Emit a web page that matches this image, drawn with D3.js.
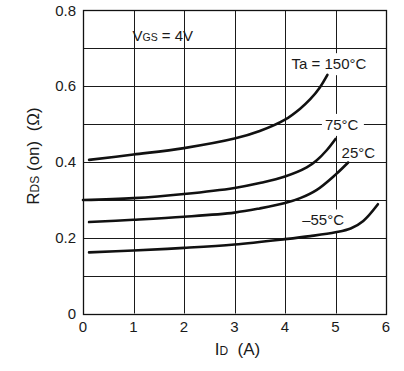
<!DOCTYPE html>
<html>
<head>
<meta charset="utf-8">
<script src="https://cdn.jsdelivr.net/npm/d3@7"></script>
<style>
  html, body { margin: 0; padding: 0; background: #fff; }
  svg { display: block; }
  text { font-family: "Liberation Sans", Arial, sans-serif; fill: #1a1a1a; }
</style>
</head>
<body>
<svg id="chart" width="404" height="371"></svg>
<script>
// ---- data ----
const xTicks = [0, 1, 2, 3, 4, 5, 6];
const yTicks = [0, 0.2, 0.4, 0.6, 0.8];
const yGrid = [0.1, 0.2, 0.3, 0.4, 0.5, 0.6, 0.7];
const xGrid = [1, 2, 3, 4, 5];

const id150 = [0.12, 1, 2, 3, 3.5, 4, 4.3, 4.5, 4.69, 4.84];
const r150  = [0.405, 0.419, 0.436, 0.461, 0.481, 0.511, 0.540, 0.565, 0.596, 0.629];

const id75 = [0, 1, 2, 3, 3.5, 4, 4.43, 4.63, 4.83, 5.0];
const r75  = [0.299, 0.304, 0.315, 0.331, 0.344, 0.361, 0.385, 0.404, 0.431, 0.46];

const id25 = [0.12, 1, 2, 3, 3.5, 4, 4.3, 4.63, 5, 5.25];
const r25  = [0.241, 0.247, 0.255, 0.266, 0.277, 0.291, 0.304, 0.326, 0.366, 0.398];

const idM55 = [0.12, 1, 2, 3, 4, 4.5, 5, 5.3, 5.55, 5.84];
const rM55  = [0.161, 0.166, 0.173, 0.182, 0.196, 0.204, 0.214, 0.224, 0.244, 0.288];

const curveLabels = [
  { text: "Ta = 150°C", id: 4.13, r: 0.644, w: 78 },
  { text: "75°C", id: 4.79, r: 0.484, w: 36 },
  { text: "25°C", id: 5.12, r: 0.411, w: 0 },
  { text: "–55°C", id: 4.34, r: 0.232, w: 44 }
];

// ---- scales ----
const svg = d3.select("#chart");
const x = d3.scaleLinear().domain([0, 6]).range([83, 386]);
const y = d3.scaleLinear().domain([0, 0.8]).range([313.5, 10]);

// grid
const g = svg.append("g");
g.selectAll("line.h").data(yGrid).enter().append("line")
  .attr("x1", x(0)).attr("x2", x(6))
  .attr("y1", d => Math.round(y(d)) + 0.5).attr("y2", d => Math.round(y(d)) + 0.5)
  .attr("stroke", "#1a1a1a").attr("stroke-width", 1);
g.selectAll("line.v").data(xGrid).enter().append("line")
  .attr("y1", y(0)).attr("y2", y(0.8))
  .attr("x1", d => Math.round(x(d)) + 0.5).attr("x2", d => Math.round(x(d)) + 0.5)
  .attr("stroke", "#1a1a1a").attr("stroke-width", 1);

// frame
svg.append("rect")
  .attr("x", Math.round(x(0)) + 0.5).attr("y", Math.round(y(0.8)) + 0.5)
  .attr("width", Math.round(x(6)) - Math.round(x(0)))
  .attr("height", Math.round(y(0)) - Math.round(y(0.8)))
  .attr("fill", "none").attr("stroke", "#111").attr("stroke-width", 1.3);

// label white backgrounds
svg.selectAll("rect.lbg").data(curveLabels.filter(d => d.w > 0)).enter().append("rect")
  .attr("x", d => x(d.id) - 3).attr("y", d => y(d.r) - 16)
  .attr("width", d => d.w + 6).attr("height", 22)
  .attr("fill", "#fff");

// curves
const series = [
  id150.map((v, i) => [v, r150[i]]),
  id75.map((v, i) => [v, r75[i]]),
  id25.map((v, i) => [v, r25[i]]),
  idM55.map((v, i) => [v, rM55[i]])
];
const line = d3.line().x(d => x(d[0])).y(d => y(d[1])).curve(d3.curveCatmullRom.alpha(0.5));
svg.selectAll("path.curve").data(series).enter().append("path")
  .attr("d", line).attr("fill", "none").attr("stroke", "#111")
  .attr("stroke-width", 2.6).attr("stroke-linecap", "round");

// curve labels
svg.selectAll("text.cl").data(curveLabels).enter().append("text")
  .attr("x", d => x(d.id)).attr("y", d => y(d.r))
  .attr("font-size", 15).text(d => d.text);

// VGS label
const vgs = svg.append("text").attr("x", x(0.98)).attr("y", y(0.717)).attr("font-size", 15);
vgs.append("tspan").text("V");
vgs.append("tspan").attr("font-size", 10.5).text("GS");
vgs.append("tspan").text(" = 4V");

// tick labels
svg.selectAll("text.xt").data(xTicks).enter().append("text")
  .attr("x", d => x(d)).attr("y", 332).attr("text-anchor", "middle")
  .attr("font-size", 15).text(d => d3.format("d")(d));
svg.selectAll("text.yt").data(yTicks).enter().append("text")
  .attr("x", 76).attr("y", d => y(d) + 5.5).attr("text-anchor", "end")
  .attr("font-size", 15).text(d => d === 0 ? "0" : d3.format(".1f")(d));

// axis titles
const xt = svg.append("text").attr("x", 237.5).attr("y", 355).attr("text-anchor", "middle").attr("font-size", 17);
xt.append("tspan").text("I");
xt.append("tspan").attr("font-size", 12).text("D");
xt.append("tspan").text("\u00a0\u00a0(A)");

const yt = svg.append("text").attr("transform", "translate(39,156) rotate(-90)")
  .attr("text-anchor", "middle").attr("font-size", 17);
yt.append("tspan").text("R");
yt.append("tspan").attr("font-size", 12).text("DS");
yt.append("tspan").text(" (on)\u00a0\u00a0(Ω)");
</script>
</body>
</html>
